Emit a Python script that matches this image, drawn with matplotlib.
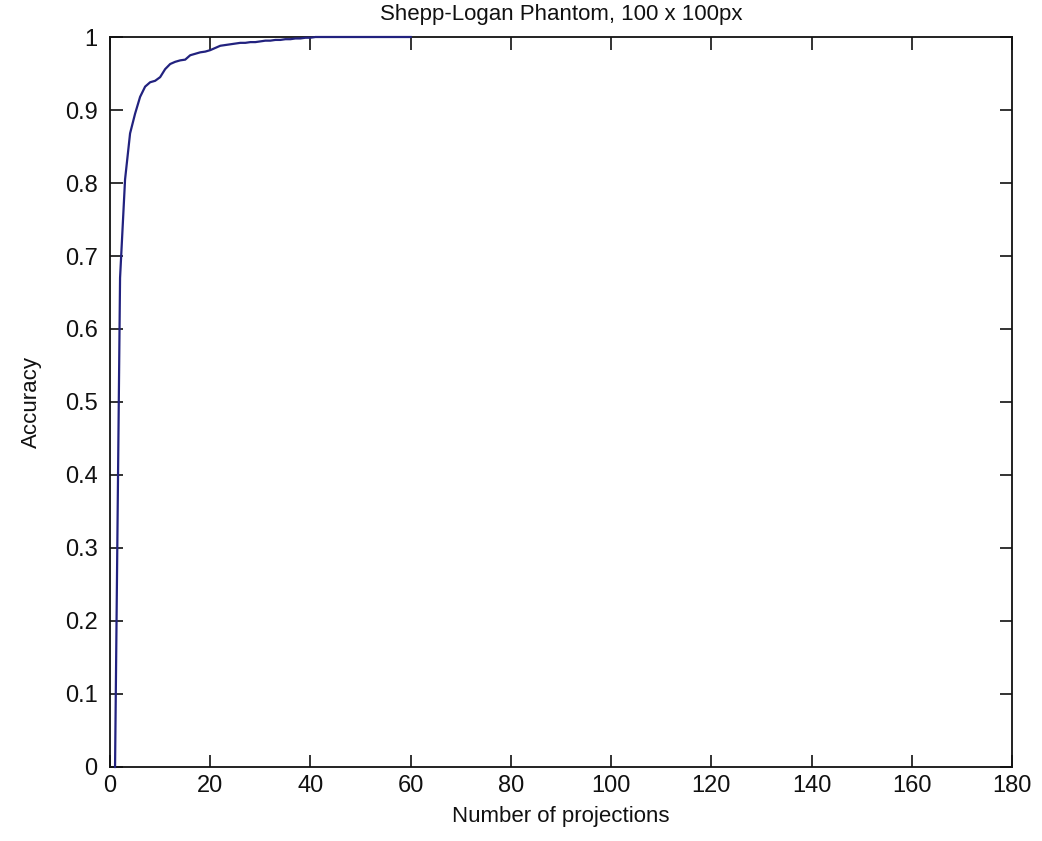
import matplotlib

matplotlib.use("Agg")

import matplotlib.pyplot as plt  # noqa: E402

# accuracy vs number of projections
projections = list(range(1, 61))
accuracy = [
    0.000, 0.670, 0.805, 0.868, 0.895, 0.918, 0.932, 0.938, 0.940, 0.945,
    0.956, 0.963, 0.966, 0.968, 0.969, 0.975, 0.977, 0.979, 0.980, 0.982,
    0.985, 0.988, 0.989, 0.990, 0.991, 0.992, 0.992, 0.993, 0.993, 0.994,
    0.995, 0.995, 0.996, 0.996, 0.997, 0.997, 0.998, 0.998, 0.999, 0.999,
    1.000, 1.000, 1.000, 1.000, 1.000, 1.000, 1.000, 1.000, 1.000, 1.000,
    1.000, 1.000, 1.000, 1.000, 1.000, 1.000, 1.000, 1.000, 1.000, 1.000,
]

x_ticks = list(range(0, 181, 20))
y_ticks = [i / 10 for i in range(11)]
y_tick_labels = ["0"] + [f"{v:.1f}" for v in y_ticks[1:-1]] + ["1"]

TITLE = "Shepp-Logan Phantom, 100 x 100px"
X_LABEL = "Number of projections"
Y_LABEL = "Accuracy"

plt.rcParams["font.family"] = ["Liberation Sans", "DejaVu Sans"]

fig = plt.figure(figsize=(10.42, 8.41), dpi=100)
ax = fig.add_axes([0.1056, 0.088, 0.8656, 0.868])

# drawn over the box so the flat part at 1 shows on the top edge, as in the original
ax.plot(projections, accuracy, color="#22227f", linewidth=1.6, zorder=3, clip_on=False)

ax.set_xlim(0, 180)
ax.set_ylim(0, 1)
ax.set_xticks(x_ticks)
ax.set_xticklabels([str(v) for v in x_ticks])
ax.set_yticks(y_ticks)
ax.set_yticklabels(y_tick_labels)

ax.tick_params(direction="in", top=True, right=True, length=9, width=1.2,
               labelsize=17, colors="#111111")
ax.tick_params(axis="x", pad=6)
ax.tick_params(axis="y", pad=9)
for spine in ax.spines.values():
    spine.set_linewidth(1.3)
    spine.set_color("#111111")

ax.set_title(TITLE, fontsize=16, pad=12, color="#111111")
ax.set_xlabel(X_LABEL, fontsize=16, labelpad=6, color="#111111")
ax.set_ylabel(Y_LABEL, fontsize=16, labelpad=16, color="#111111")

fig.savefig("out.png", dpi=100)
